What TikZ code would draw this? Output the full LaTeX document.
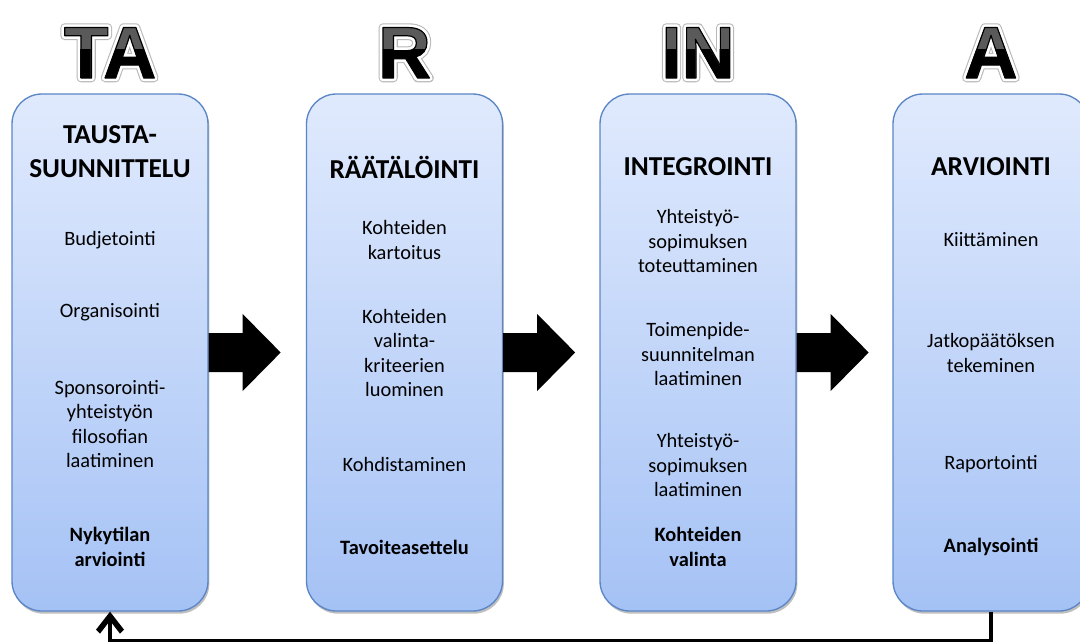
\documentclass[tikz,border=0pt]{standalone}
\usepackage{fontspec}
\setmainfont{Carlito}
\newfontfamily\hdrfont{Liberation Sans}
\usetikzlibrary{calc,shadows}

\definecolor{boxtop}{HTML}{E0EAFD}
\definecolor{boxbot}{HTML}{A5C2F5}
\definecolor{boxline}{HTML}{5B86C6}
\definecolor{hdrgray}{HTML}{5A5A5A}

% outlined glyphs through the PDF text rendering mode
\newcommand\strokedtext[3]{% width, RGB stroke colour, text
  \special{pdf:literal direct 1 Tr 1 j #1 w #2 RG}#3\special{pdf:literal direct 0 Tr}}
\newcommand\edgedtext[3]{% width, RGB stroke colour, text (filled and stroked)
  \special{pdf:literal direct 2 Tr 1 j #1 w #2 RG}#3\special{pdf:literal direct 0 Tr}}

\tikzset{
  phase/.style={draw=boxline, line width=1pt, rounded corners=22.5pt,
    top color=boxtop, bottom color=boxbot,
    minimum width=147pt, minimum height=387.75pt, inner sep=0pt,
    drop shadow={shadow xshift=1pt, shadow yshift=-2pt, opacity=0.25, fill=black}},
  item/.style={align=center, inner sep=0pt, font=\fontsize{15.3}{18.4}\selectfont},
  itembold/.style={align=center, inner sep=0pt, font=\bfseries\fontsize{15.3}{18.4}\selectfont},
  phasetitle/.style={align=center, inner sep=0pt, font=\bfseries\fontsize{20.5}{25.5}\selectfont},
  hdr/.style={anchor=base, inner sep=0pt, font=\hdrfont\bfseries\fontsize{55}{55}\selectfont},
  blockarrow/.style={fill=black},
  feedback/.style={line width=2.6pt},
  barb/.style={fill=black}
}

% Large phase letters: grey halo, white rim, dark edge, two-tone fill
\newcommand\phaseletters[3]{%
  \node[hdr] (#1halo) at (#2,78) {\strokedtext{6.4}{0.72 0.72 0.72}{#3}};
  \node[hdr] (#1rim) at (#2,78) {\strokedtext{4.8}{1 1 1}{#3}};
  \node[hdr, text=hdrgray] (#1) at (#2,78) {\edgedtext{0.9}{0 0 0}{#3}};
  \begin{scope}
    \clip (#2-80,49) rectangle (#2+80,95);
    \node[hdr, text=black] (#1low) at (#2,78) {#3};
  \end{scope}
}

\begin{document}
\begin{tikzpicture}[x=0.75pt, y=-0.75pt]
  \clip (0,0) rectangle (1080,643);
  \fill[white] (0,0) rectangle (1080,643);

  % phase letters
  \phaseletters{hTA}{110}{TA}
  \phaseletters{hR}{404.5}{R}
  \phaseletters{hIN}{698}{IN}
  \phaseletters{hA}{991}{A}

  % phase boxes
  \node[phase] (b1) at (110,352.5) {};
  \node[phase] (b2) at (404.5,352.5) {};
  \node[phase] (b3) at (698,352.5) {};
  \node[phase] (b4) at (991,352.5) {};

  % box 1
  \node[phasetitle] (t1) at (110,152) {TAUSTA-\\SUUNNITTELU};
  \node[item] (b1i1) at (110,240) {Budjetointi};
  \node[item] (b1i2) at (110,312) {Organisointi};
  \node[item] (b1i3) at (110,424) {Sponsorointi-\\yhteistyön\\filosofian\\laatiminen};
  \node[itembold] (b1i4) at (110,547) {Nykytilan\\arviointi};

  % box 2
  \node[phasetitle] (t2) at (404.5,167) {RÄÄTÄLÖINTI};
  \node[item] (b2i1) at (404.5,240) {Kohteiden\\kartoitus};
  \node[item] (b2i2) at (404.5,353) {Kohteiden\\valinta-\\kriteerien\\luominen};
  \node[item] (b2i3) at (404.5,464) {Kohdistaminen};
  \node[itembold] (b2i4) at (404.5,547) {Tavoiteasettelu};

  % box 3
  \node[phasetitle] (t3) at (698,167) {INTEGROINTI};
  \node[item] (b3i1) at (698,241) {Yhteistyö-\\sopimuksen\\toteuttaminen};
  \node[item] (b3i2) at (698,354) {Toimenpide-\\suunnitelman\\laatiminen};
  \node[item] (b3i3) at (698,465) {Yhteistyö-\\sopimuksen\\laatiminen};
  \node[itembold] (b3i4) at (698,547) {Kohteiden\\valinta};

  % box 4
  \node[phasetitle] (t4) at (991,167) {ARVIOINTI};
  \node[item] (b4i1) at (991,240) {Kiittäminen};
  \node[item] (b4i2) at (991,353) {Jatkopäätöksen\\tekeminen};
  \node[item] (b4i3) at (991,464) {Raportointi};
  \node[itembold] (b4i4) at (991,547) {Analysointi};

  % block arrows between phases
  \foreach \src in {b1,b2,b3}
    \fill[blockarrow] ($(\src.east)+(0,-19.5)$) -- ++(34,0) -- ++(0,-19)
      -- ++(38,38.5) -- ++(-38,38.5) -- ++(0,-19) -- ++(-34,0) -- cycle;

  % feedback loop back to the first phase, with a solid chevron head
  \draw[feedback] (b4.south) -- ++(0,29) -| ($(b1.south)+(0,8)$);
  \fill[barb] ($(b1.south)+(0,0)$) -- ++(14,18) -- ++(-4,4) -- ++(-10,-13)
    -- ++(-10,13) -- ++(-4,-4) -- cycle;
\end{tikzpicture}
\end{document}
